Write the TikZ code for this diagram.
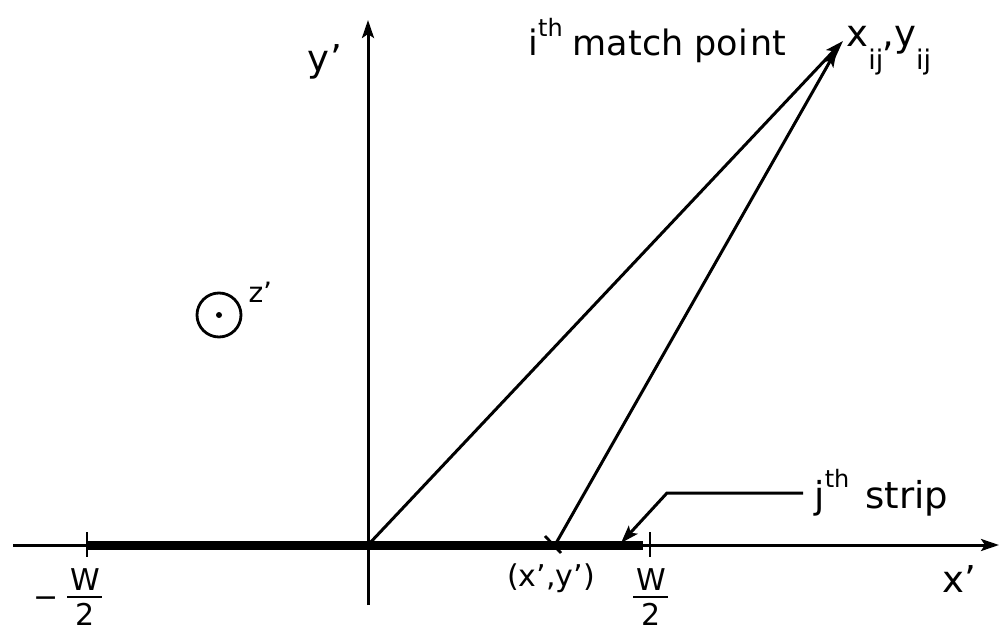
\documentclass[tikz,border=0pt]{standalone}
\usepackage{fontspec}
\setmainfont{DejaVu Sans}
\usetikzlibrary{arrows.meta}
\begin{document}
\begin{tikzpicture}[x=1pt,y=-1pt,line width=3pt,
  arr/.style={-{Stealth[length=18pt,width=12pt,inset=4pt]}},
  big/.style={font=\fontsize{37}{37}\selectfont,inner sep=0pt},
  mtc/.style={font=\fontsize{35}{35}\selectfont,inner sep=0pt},
  mid/.style={font=\fontsize{30}{30}\selectfont,inner sep=0pt},
  sml/.style={font=\fontsize{28}{28}\selectfont,inner sep=0pt},
  strip/.style={line width=9pt},
  tick/.style={line width=2.8pt}]
\useasboundingbox (0,0) rectangle (999,631);
% coordinates
\coordinate (O) at (368,545);
\coordinate (xs) at (13,545);
\coordinate (xe) at (999,545);
\coordinate (ys) at (368,605);
\coordinate (ye) at (368,20);
\coordinate (sL) at (87,545);
\coordinate (sR) at (643,545);
\coordinate (P1) at (843,41);
\coordinate (P2) at (837,49);
\coordinate (Q) at (555,545);
\coordinate (kink) at (667,493);
\coordinate (stip) at (621,543);
% strip
\draw[strip] (sL) -- (sR);
% axes
\draw[arr] (xs) -- (xe);
\draw[arr] (ys) -- (ye);
% ticks
\draw[tick] (87,532) -- (87,557);
\draw[tick] (650,532) -- (650,557);
% vectors
\draw[arr] (O) -- (P1);
\draw[arr] (Q) -- (P2);
\draw[tick] (545,536) -- (561,553);
% labels
\node[big,anchor=base] (yl) at (325,72) {y\kern1pt'};
\node[big,anchor=base east] (xl) at (978,592) {x'};
\node[mtc,anchor=base west] (match) at (527,56) {i\raisebox{0.55em}{\fontsize{24}{24}\selectfont th}\kern10pt match poi\kern2pt nt};
\node[big,anchor=base west] (pt) at (845,47) {x\raisebox{-0.6em}{\fontsize{27}{27}\selectfont ij}\kern-1pt,y\raisebox{-0.6em}{\fontsize{27}{27}\selectfont ij}};
\node[big,anchor=base west] (jl) at (813,508) {j\raisebox{0.55em}{\fontsize{24}{24}\selectfont th}\kern16pt strip};
\node[mid,anchor=base] (xy) at (551,586) {(x',y')};
% circle
\node[draw,circle,minimum size=44pt,line width=2.8pt,inner sep=0pt] (zc) at (219,315) {};
\fill (zc.center) circle (3pt);
\node[sml,anchor=base west] (zl) at (247,302) {z'};
% fractions
\node[mid,anchor=base] (wl) at (85,590) {W};
\draw[tick] (67,597) -- (102,597);
\node[mid,anchor=base] (tl) at (85,625) {2};
\node[mid,anchor=base] (ml) at (46,607) {−};
\node[mid,anchor=base] (wr) at (651,590) {W};
\draw[tick] (633,597) -- (668,597);
\node[mid,anchor=base] (tr) at (651,625) {2};
% strip pointer
\draw[arr] (jl.west |- kink) ++(-10,0) -- (kink) -- (stip);
\end{tikzpicture}
\end{document}
